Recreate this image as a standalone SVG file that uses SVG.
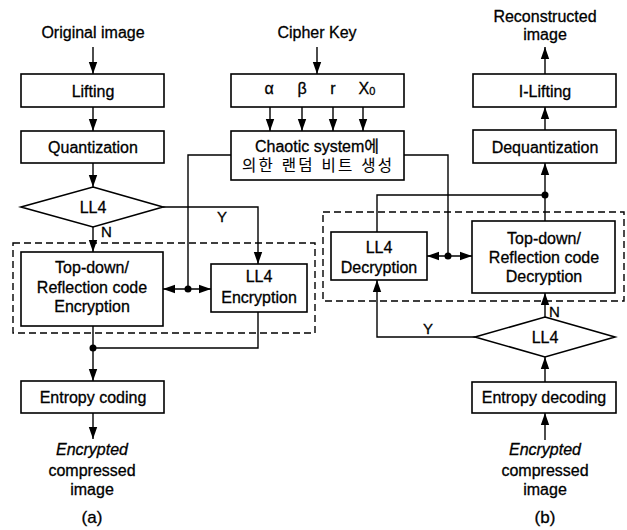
<svg xmlns="http://www.w3.org/2000/svg" width="627" height="530" viewBox="0 0 627 530">
  <defs>
    <marker id="ah" markerWidth="12" markerHeight="10" refX="12" refY="5" orient="auto" markerUnits="userSpaceOnUse">
      <path d="M0,0.8 L12,5 L0,9.2 Z" fill="#000"/>
    </marker>
    <marker id="ahs" markerWidth="12" markerHeight="10" refX="0" refY="5" orient="auto" markerUnits="userSpaceOnUse">
      <path d="M12,0.8 L0,5 L12,9.2 Z" fill="#000"/>
    </marker>
  </defs>
  <style>
    .box { fill: #fff; stroke: #000; stroke-width: 1.6; }
    .dash { fill: none; stroke: #000; stroke-width: 1.4; stroke-dasharray: 7 4; }
    .ln { fill: none; stroke: #000; stroke-width: 1.4; }
    .arr { fill: none; stroke: #000; stroke-width: 1.4; marker-end: url(#ah); }
    .dbl { fill: none; stroke: #000; stroke-width: 1.4; marker-end: url(#ah); marker-start: url(#ahs); }
    .dot { fill: #000; }
    text { font-family: "Liberation Sans", Arial, "Noto Sans CJK KR", sans-serif; font-size: 16px; fill: #000; stroke: #000; stroke-width: 0.3; text-anchor: middle; }
    .it { font-style: italic; }
    .kr { font-size: 15.5px; stroke-width: 0.1; }
    .lbl { font-size: 15px; text-anchor: start; }
    .cap { font-size: 17px; }
  </style>

  <!-- dashed grouping frames -->
  <rect class="dash" x="13" y="243" width="302" height="90"/>
  <rect class="dash" x="323" y="212" width="301" height="89"/>

  <!-- connectors -->
  <g id="connectors">
    <!-- encoder chain -->
    <line class="arr" x1="93" y1="47" x2="93" y2="74"/>
    <line class="arr" x1="93" y1="107" x2="93" y2="131"/>
    <line class="arr" x1="93" y1="163" x2="93" y2="187"/>
    <line class="arr" x1="93" y1="227" x2="93" y2="252"/>
    <polyline class="arr" points="163,207 258,207 258,264"/>
    <line class="ln" x1="93" y1="326" x2="93" y2="348"/>
    <polyline class="ln" points="258,312 258,348 93,348"/>
    <circle class="dot" cx="93" cy="348" r="3.5"/>
    <line class="arr" x1="93" y1="348" x2="93" y2="381"/>
    <line class="arr" x1="93" y1="413" x2="93" y2="439"/>

    <!-- cipher key to chaotic system -->
    <line class="arr" x1="317" y1="47" x2="317" y2="74"/>
    <line class="arr" x1="270" y1="107" x2="270" y2="131"/>
    <line class="arr" x1="302" y1="107" x2="302" y2="131"/>
    <line class="arr" x1="333" y1="107" x2="333" y2="131"/>
    <line class="arr" x1="363" y1="107" x2="363" y2="131"/>

    <!-- key stream to encryption blocks -->
    <polyline class="ln" points="231,155 188,155 188,289"/>
    <line class="dbl" x1="163" y1="289" x2="211" y2="289"/>
    <circle class="dot" cx="188" cy="289" r="3.5"/>

    <!-- key stream to decryption blocks -->
    <polyline class="ln" points="404,155 448,155 448,256"/>
    <line class="dbl" x1="427" y1="256" x2="472" y2="256"/>
    <circle class="dot" cx="448" cy="256" r="3.5"/>

    <!-- decoder chain -->
    <line class="arr" x1="545" y1="440" x2="545" y2="413"/>
    <line class="arr" x1="545" y1="382" x2="545" y2="357"/>
    <line class="arr" x1="545" y1="317" x2="545" y2="293"/>
    <polyline class="arr" points="475,337 377,337 377,280"/>
    <line class="ln" x1="545" y1="221" x2="545" y2="195"/>
    <polyline class="ln" points="377,232 377,195 545,195"/>
    <circle class="dot" cx="545" cy="195" r="3.5"/>
    <line class="arr" x1="545" y1="195" x2="545" y2="163"/>
    <line class="arr" x1="545" y1="130" x2="545" y2="107"/>
    <line class="arr" x1="545" y1="74" x2="545" y2="47"/>

    <text class="lbl" x="217" y="222">Y</text>
    <text class="lbl" x="101" y="237">N</text>
    <text class="lbl" x="423" y="334">Y</text>
    <text class="lbl" x="549" y="317">N</text>
  </g>

  <!-- encoder (a) -->
  <g id="original-image"><text x="93" y="38">Original image</text></g>
  <g id="lifting">
    <rect class="box" x="21" y="74" width="143" height="33"/>
    <text x="93" y="97">Lifting</text>
  </g>
  <g id="quantization">
    <rect class="box" x="21" y="131" width="143" height="32"/>
    <text x="93" y="153">Quantization</text>
  </g>
  <g id="ll4-check-enc">
    <polygon class="box" points="93,187 163,207 93,227 21,207"/>
    <text x="93" y="213">LL4</text>
  </g>
  <g id="topdown-encryption">
    <rect class="box" x="21" y="252" width="142" height="74"/>
    <text x="92" y="273">Top-down/</text>
    <text x="92" y="293">Reflection code</text>
    <text x="92" y="312">Encryption</text>
  </g>
  <g id="ll4-encryption">
    <rect class="box" x="211" y="264" width="96" height="48"/>
    <text x="259" y="282">LL4</text>
    <text x="259" y="303">Encryption</text>
  </g>
  <g id="entropy-coding">
    <rect class="box" x="21" y="381" width="143" height="32"/>
    <text x="93" y="403">Entropy coding</text>
  </g>
  <g id="encrypted-out">
    <text class="it" x="92" y="455">Encrypted</text>
    <text x="92" y="476">compressed</text>
    <text x="92" y="495">image</text>
    <text class="cap" x="92" y="523">(a)</text>
  </g>

  <!-- cipher key and chaotic generator -->
  <g id="cipher-key"><text x="317" y="38">Cipher Key</text></g>
  <g id="key-params">
    <rect class="box" x="231" y="74" width="173" height="33"/>
    <text x="269" y="94">α</text>
    <text x="302" y="94">β</text>
    <text x="333" y="94">r</text>
    <text x="367" y="94">X<tspan font-size="11" dy="1">0</tspan></text>
  </g>
  <g id="chaotic-system">
    <rect class="box" x="231" y="131" width="173" height="49"/>
    <text x="317" y="152">Chaotic system에</text>
    <text class="kr" x="317" y="171" textLength="150" lengthAdjust="spacing">의한 랜덤 비트 생성</text>
  </g>

  <!-- decoder (b) -->
  <g id="reconstructed-image">
    <text x="545" y="22">Reconstructed</text>
    <text x="545" y="40">image</text>
  </g>
  <g id="i-lifting">
    <rect class="box" x="473" y="74" width="143" height="33"/>
    <text x="545" y="97">I-Lifting</text>
  </g>
  <g id="dequantization">
    <rect class="box" x="473" y="130" width="143" height="33"/>
    <text x="545" y="153">Dequantization</text>
  </g>
  <g id="ll4-decryption">
    <rect class="box" x="331" y="232" width="96" height="48"/>
    <text x="379" y="253">LL4</text>
    <text x="379" y="273">Decryption</text>
  </g>
  <g id="topdown-decryption">
    <rect class="box" x="472" y="221" width="143" height="72"/>
    <text x="544" y="244">Top-down/</text>
    <text x="544" y="263">Reflection code</text>
    <text x="544" y="282">Decryption</text>
  </g>
  <g id="ll4-check-dec">
    <polygon class="box" points="545,317 615,337 545,357 475,337"/>
    <text x="545" y="343">LL4</text>
  </g>
  <g id="entropy-decoding">
    <rect class="box" x="472" y="382" width="144" height="31"/>
    <text x="544" y="403">Entropy decoding</text>
  </g>
  <g id="encrypted-in">
    <text class="it" x="545" y="455">Encrypted</text>
    <text x="545" y="476">compressed</text>
    <text x="545" y="495">image</text>
    <text class="cap" x="545" y="523">(b)</text>
  </g>
</svg>
